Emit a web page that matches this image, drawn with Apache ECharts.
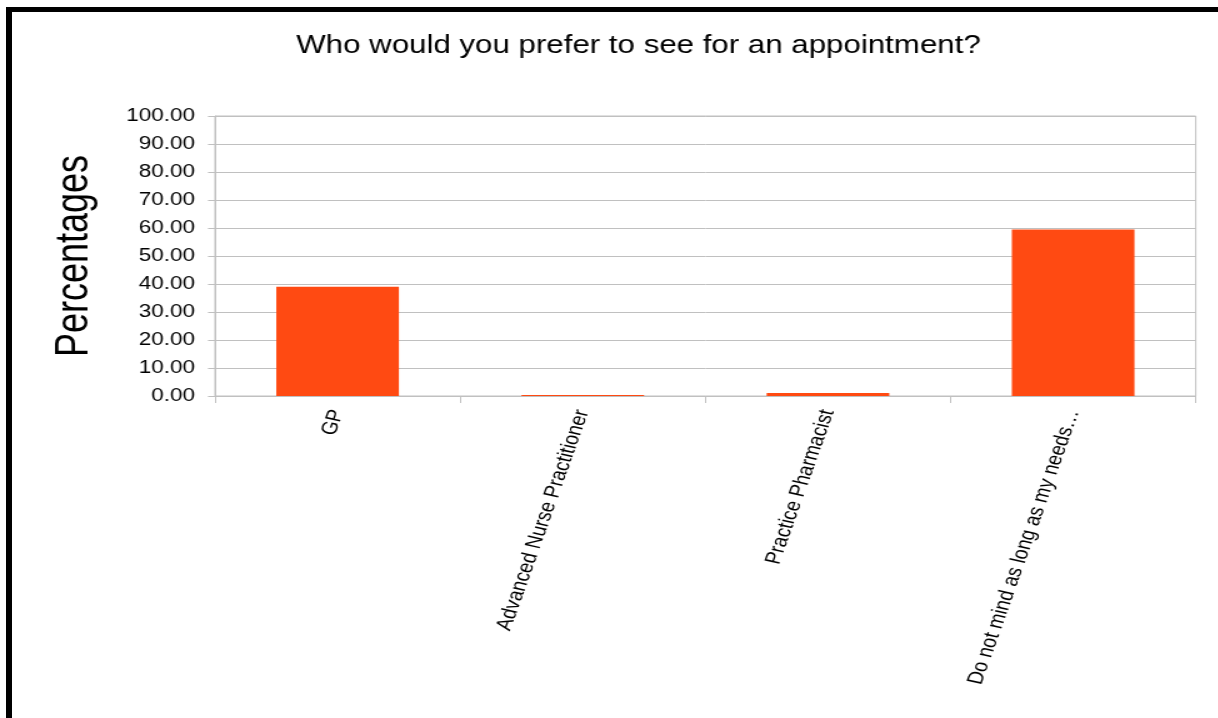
<!DOCTYPE html>
<html>
<head>
<meta charset="utf-8">
<script src="https://cdn.jsdelivr.net/npm/echarts@6/dist/echarts.min.js"></script>
<style>
  html, body { margin: 0; padding: 0; background: #fff; overflow: hidden; width: 1218px; height: 718px; }
  #frame { position: absolute; left: 6px; top: 7px; width: 3000px; height: 3000px;
           border-left: 6px solid #000; border-top: 5px solid #000; box-sizing: border-box; pointer-events: none; z-index: 2; }
  #c { position: absolute; left: 0; top: 0; width: 974.4px; height: 718px;
       transform: scaleX(1.25); transform-origin: 0 0; }
</style>
</head>
<body>
<div id="c"></div>
<div id="frame"></div>
<script>
const titleText = 'Who would you prefer to see for an appointment?';
const yAxisName = 'Percentages';
const categories = ['GP', 'Advanced Nurse Practitioner', 'Practice Pharmacist', 'Do not mind as long as my needs\u2026'];
const percentages = [39.0, 0.4, 1.1, 59.5];
const yMin = 0, yMax = 100, yStep = 10;

const chart = echarts.init(document.getElementById('c'), null, { renderer: 'canvas' });
const gridColor = '#c0c0c0';
const font = '"Liberation Sans", Arial, sans-serif';

chart.setOption({
  animation: false,
  backgroundColor: 'transparent',
  title: {
    text: titleText,
    left: 237,
    top: 34,
    padding: 0,
    textStyle: { fontFamily: font, fontSize: 25, fontWeight: 'normal', color: '#000' }
  },
  grid: {
    left: 172, right: 17.4, top: 116, bottom: 322,
    show: true, borderColor: gridColor, borderWidth: 1, containLabel: false
  },
  xAxis: {
    type: 'category',
    data: categories,
    boundaryGap: true,
    axisLine: { show: true, lineStyle: { color: gridColor, width: 1 } },
    axisTick: { show: true, alignWithLabel: false, length: 7, lineStyle: { color: gridColor } },
    axisLabel: { interval: 0, rotate: 74, margin: 14, fontSize: 18, fontFamily: font, color: '#000' },
    splitLine: { show: false }
  },
  yAxis: {
    type: 'value',
    min: yMin, max: yMax, interval: yStep,
    name: yAxisName,
    nameLocation: 'middle',
    nameGap: 94,
    nameTextStyle: { fontFamily: font, fontSize: 36, color: '#000' },
    axisLine: { show: true, lineStyle: { color: gridColor, width: 1 } },
    axisTick: { show: true, length: 5.6, lineStyle: { color: gridColor } },
    axisLabel: { margin: 16, fontSize: 18, fontFamily: font, color: '#000',
                 formatter: v => v.toFixed(2) },
    splitLine: { show: true, lineStyle: { color: gridColor, width: 1 } }
  },
  series: [{
    type: 'bar',
    data: percentages,
    barWidth: '50%',
    barMinHeight: 1,
    itemStyle: { color: '#FF4A12' }
  }]
});
</script>
</body>
</html>
